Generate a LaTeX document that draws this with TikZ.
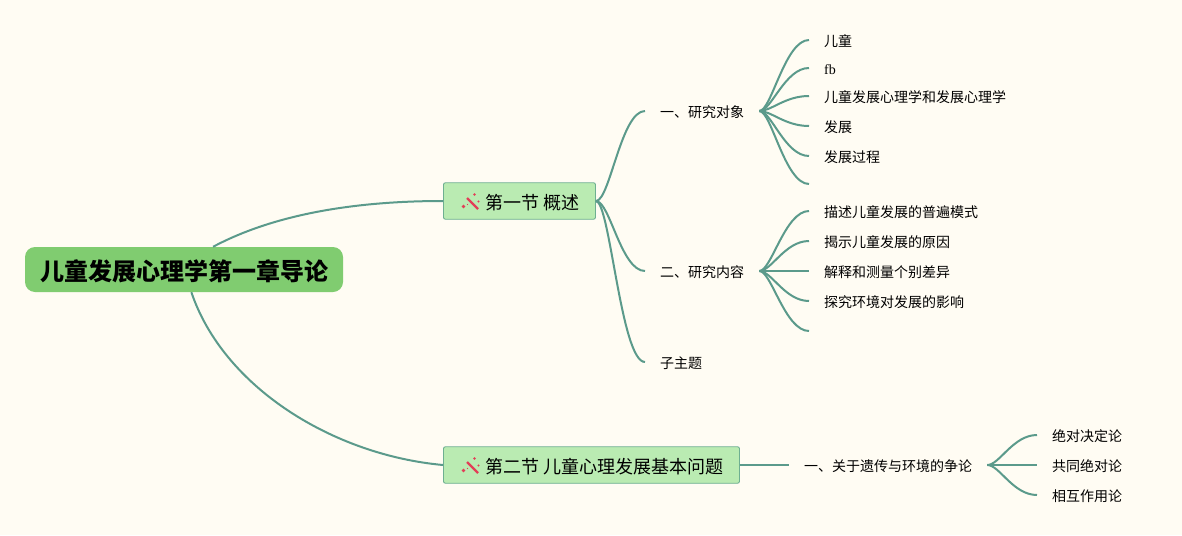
\documentclass[tikz,border=0pt]{standalone}
\usepackage{fontspec}
\usepackage{xcolor}
\setmainfont{Liberation Serif}
\newfontfamily\cjk{Noto Sans CJK SC}
\definecolor{paper}{RGB}{255,252,243}
\definecolor{branch}{RGB}{91,154,139}
\definecolor{rootgreen}{RGB}{128,204,112}
\definecolor{secgreen}{RGB}{186,235,178}
\definecolor{secedge}{RGB}{110,175,145}
\definecolor{wandred}{RGB}{226,62,87}
\tikzset{
    link/.style={draw=branch, line width=2pt},
    rootbox/.style={fill=rootgreen, rounded corners=10pt, minimum width=318pt, minimum height=45pt, inner sep=0pt, text height=22pt, text depth=0pt, font=\cjk\bfseries\fontsize{24}{28}\selectfont},
    secbox/.style={draw=secedge, line width=0.9pt, fill=secgreen, rounded corners=2pt, anchor=west, minimum height=36.5pt, inner xsep=16pt, inner ysep=0pt, text height=16.5pt, text depth=0pt, font=\cjk\fontsize{18}{22}\selectfont},
    kid/.style={anchor=west, inner xsep=15pt, inner ysep=1pt, text height=13pt, text depth=0pt, font=\cjk\fontsize{14}{18}\selectfont},
    wand/.pic={
        \draw[wandred, line width=2.2pt] (-4.5,-3.5) -- (6.5,7.5);
        \fill[wandred] (3,-7) circle (1.3pt) (-8,5) circle (1.9pt) (7,0) circle (1.1pt) (-4,3) circle (0.7pt);
    }
}
\begin{document}
\begin{tikzpicture}[x=1pt, y=-1pt]
    \fill[paper] (0,0) rectangle (1182,535);

    % Root and sections
    \node[rootbox] (root) at (184,269.5) {儿童发展心理学第一章导论};
    \node[secbox] (secA) at (443,201) {\hspace{26pt}第一节 概述};
    \node[secbox] (secB) at (443,465) {\hspace{26pt}第二节 儿童心理发展基本问题};
    \pic at (471.5,201.5) {wand};
    \pic at (471.5,465.5) {wand};
    \draw[link] (root.38) .. controls +(60,-32) and +(-90,0) .. (secA.west);
    \draw[link] (root.-72) .. controls +(32,95) and +(-110,-10) .. (secB.west);

    % First section
    \node[kid] (objA) at (645,111) {一、研究对象};
    \node[kid] (objB) at (645,271) {二、研究内容};
    \node[kid] (objC) at (645,362) {子主题};
    \foreach \n in {objA, objB, objC} {
        \draw[link] (secA.east) .. controls +(14,0) and +(-24,0) .. (\n.west);
    }

    % Leaves of the first topic
    \foreach \i/\y/\txt in {1/40/儿童, 2/68/{\rmfamily fb}, 3/96/儿童发展心理学和发展心理学, 4/126/发展, 5/156/发展过程} {
        \node[kid] (leafA\i) at (809,\y) {\txt};
        \draw[link] (objA.east) .. controls +(12,0) and +(-24,0) .. (leafA\i.west);
    }
    \coordinate (leafA6) at (809,184);
    \draw[link] (objA.east) .. controls +(12,0) and +(-24,0) .. (leafA6);

    % Leaves of the second topic
    \foreach \i/\y/\txt in {1/211/描述儿童发展的普遍模式, 2/241/揭示儿童发展的原因, 3/271/解释和测量个别差异, 4/301/探究环境对发展的影响} {
        \node[kid] (leafB\i) at (809,\y) {\txt};
        \draw[link] (objB.east) .. controls +(12,0) and +(-24,0) .. (leafB\i.west);
    }
    \coordinate (leafB5) at (809,331);
    \draw[link] (objB.east) .. controls +(12,0) and +(-24,0) .. (leafB5);

    % Second section
    \node[kid] (argue) at (789,465) {一、关于遗传与环境的争论};
    \draw[link] (secB.east) -- (argue.west);
    \foreach \i/\y/\txt in {1/435/绝对决定论, 2/465/共同绝对论, 3/495/相互作用论} {
        \node[kid] (leafC\i) at (1037,\y) {\txt};
        \draw[link] (argue.east) .. controls +(12,0) and +(-24,0) .. (leafC\i.west);
    }
\end{tikzpicture}
\end{document}
